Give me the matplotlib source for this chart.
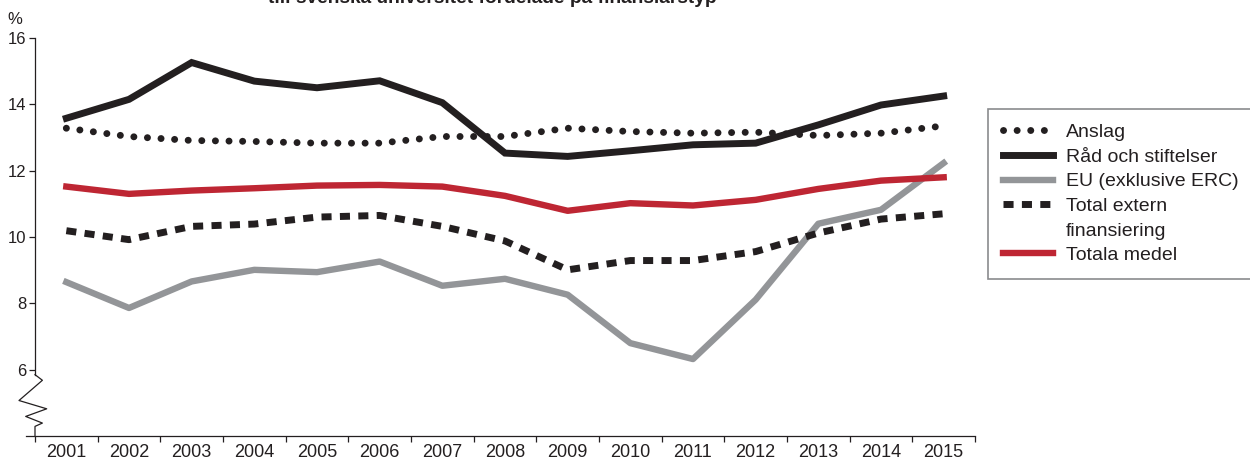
import numpy as np
import matplotlib
matplotlib.use("Agg")
import matplotlib.pyplot as plt
from matplotlib.lines import Line2D

plt.rcParams['font.family'] = ['Liberation Sans', 'DejaVu Sans']

# data (per cent)
years = ['2001', '2002', '2003', '2004', '2005', '2006', '2007', '2008',
         '2009', '2010', '2011', '2012', '2013', '2014', '2015']
anslag = [13.28, 13.03, 12.91, 12.88, 12.83, 12.83, 13.03, 13.03,
          13.28, 13.18, 13.13, 13.16, 13.06, 13.13, 13.35]
rad_stiftelser = [13.58, 14.15, 15.26, 14.70, 14.50, 14.71, 14.05, 12.53,
                  12.43, 12.60, 12.78, 12.83, 13.38, 13.98, 14.25]
eu_exkl_erc = [8.64, 7.86, 8.66, 9.01, 8.94, 9.26, 8.53, 8.74,
               8.26, 6.80, 6.32, 8.11, 10.40, 10.82, 12.23]
total_extern = [10.19, 9.92, 10.32, 10.39, 10.60, 10.65, 10.32, 9.88,
                9.01, 9.29, 9.29, 9.56, 10.12, 10.54, 10.70]
totala_medel = [11.52, 11.30, 11.40, 11.47, 11.55, 11.57, 11.52, 11.24,
                10.79, 11.02, 10.95, 11.12, 11.45, 11.70, 11.80]

labels = ['Anslag', 'Råd och stiftelser', 'EU (exklusive ERC)',
          'Total extern', 'finansiering', 'Totala medel']

BLACK = '#231f20'
GREY = '#939598'
RED = '#be2633'

fig = plt.figure(figsize=(12.5, 4.59), dpi=100)
ax = fig.add_axes([26 / 1250, 23 / 459, (975 - 26) / 1250, (436 - 38) / 459])

x = np.arange(len(years))
lw = 5
l1, = ax.plot(x, anslag, color=BLACK, lw=lw, ls=(0, (0.01, 1.95)),
              dash_capstyle='round')
l2, = ax.plot(x, rad_stiftelser, color=BLACK, lw=lw, solid_joinstyle='miter')
l3, = ax.plot(x, eu_exkl_erc, color=GREY, lw=4.6)
l4, = ax.plot(x, total_extern, color=BLACK, lw=lw, ls=(0, (1.45, 1.2)),
              dash_capstyle='butt')
l5, = ax.plot(x, totala_medel, color=RED, lw=4.6)

ax.set_xlim(-0.5 - 9 / 62.7, 14.5)
ax.set_ylim(4, 16)

# axes styling
for s in ['top', 'right']:
    ax.spines[s].set_visible(False)
ax.spines['left'].set_position(('data', -0.5))
ax.spines['left'].set_bounds(5.85, 16)
ax.spines['left'].set_color(BLACK)
ax.spines['left'].set_linewidth(0.9)
ax.spines['bottom'].set_color(BLACK)
ax.spines['bottom'].set_linewidth(0.9)

ax.set_yticks([6, 8, 10, 12, 14, 16])
ax.tick_params(axis='y', direction='out', length=4, width=0.9, color=BLACK,
               labelsize=12, pad=2, labelcolor=BLACK)
ax.set_xticks(np.arange(-0.5, 15, 1))
ax.set_xticklabels([])
ax.set_xticks(x, minor=True)
ax.set_xticklabels(years, minor=True)
ax.tick_params(axis='x', which='major', direction='out', length=4.3,
               width=0.9, color=BLACK)
ax.tick_params(axis='x', which='minor', length=0, labelsize=13, pad=6,
               labelcolor=BLACK)

# axis break (zigzag) on the y axis, offsets in pixels from the spine
zz_y = [5.85, 5.68, 5.07, 4.82, 4.59, 4.39, 4.29, 4.0]
zz_dx = [0, 7.4, -16, 11.7, -9.3, 7.4, 0, 0]
pts = []
for yy, dx in zip(zz_y, zz_dx):
    disp = ax.transData.transform((-0.5, yy))
    pts.append((disp[0] + dx, disp[1]))
data_pts = ax.transData.inverted().transform(np.array(pts))
ax.plot(data_pts[:, 0], data_pts[:, 1], color=BLACK, lw=0.9, clip_on=False)

fig.text(15 / 1250, 1 - 20 / 459, '%', ha='center', va='center',
         fontsize=12, color=BLACK)

# title, cut off at the top edge as in the original
fig.text(492 / 1250, 1 - 3 / 459,
         'till svenska universitet fördelade på finansiärstyp',
         ha='center', va='baseline', fontsize=13.8, fontweight='bold',
         color=BLACK)

# second line of "Total extern finansiering" gets an empty handle
blank = Line2D([], [], color='none')
leg = fig.legend([l1, l2, l3, l4, blank, l5], labels, loc='upper left',
                 bbox_to_anchor=(988 / 1250, 1 - 109 / 459),
                 fontsize=14, frameon=True, fancybox=False,
                 handlelength=2.6, handletextpad=0.67, borderpad=0.75,
                 labelspacing=0.36, borderaxespad=0)
leg.get_frame().set_edgecolor('#6d6e71')
leg.get_frame().set_linewidth(1.2)
for t in leg.get_texts():
    t.set_color(BLACK)

fig.savefig('out.png', dpi=100)
